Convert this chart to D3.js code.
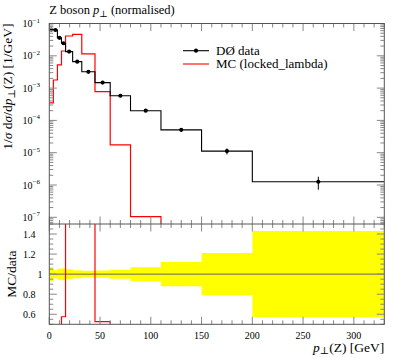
<!DOCTYPE html>
<html><head><meta charset="utf-8">
<script src="https://cdn.jsdelivr.net/npm/d3@7"></script>
<style>
body{margin:0;background:#fff;}
svg{display:block;font-family:"Liberation Serif","DejaVu Serif",serif;}
</style></head>
<body><svg id="c" width="397" height="358"></svg>
<script>
// ---- data ----
const binEdges = [0, 4, 8, 12, 16, 23, 32, 45, 60, 80, 110, 150, 200, 330];
const dataValues = [0.065, 0.063, 0.036, 0.0245, 0.0135, 0.0066, 0.0032, 0.00148, 0.00058, 0.0002, 0.000051, 0.0000112, 0.00000126];
const dataRelErr = [0.07, 0.04, 0.055, 0.06, 0.05, 0.04, 0.033, 0.037, 0.045, 0.07, 0.12, 0.21, 0.43];
const mcValues = [0.00035, 0.00178, 0.0052, 0.0141, 0.041, 0.046, 0.0114, 0.00078, 0.0000174, 0.000000105, 0, 0, 0];
const xTickLabels = ["0", "50", "100", "150", "200", "250", "300"];
const yTickExps = [-1, -2, -3, -4, -5, -6, -7];
const ratioTickLabels = ["0.6", "0.8", "1", "1.2", "1.4"];

const svg = d3.select("#c");
const L = 49.3, R = 384.3, T = 23.5, MB = 224, RB = 324.3;
const x = d3.scaleLinear().domain([0, 330]).range([L, R]);
const y = d3.scaleLog().domain([1e-7, 1e-1]).range([217.3, T]);
const yr = d3.scaleLinear().domain([0.5, 1.5]).range([RB, MB]);
const yM = v => v > 0 ? y(v) : MB + 20;

const defs = svg.append("defs");
defs.append("clipPath").attr("id","cm").append("rect").attr("x",L).attr("y",T).attr("width",R-L).attr("height",MB-T);
defs.append("clipPath").attr("id","cr").append("rect").attr("x",L).attr("y",MB).attr("width",R-L).attr("height",RB-MB);

const nb = dataValues.length;
function stepPath(vals, fy){
  const p = d3.path();
  for (let i=0;i<nb;i++){
    const yy = fy(vals[i]);
    if (i===0) p.moveTo(x(binEdges[0]), yy); else p.lineTo(x(binEdges[i]), yy);
    p.lineTo(x(binEdges[i+1]), yy);
  }
  return p.toString();
}

// ---- ratio panel ----
const gr = svg.append("g").attr("clip-path","url(#cr)");
const bandArea = d3.area().curve(d3.curveStepAfter)
  .x(d=>x(d.x)).y0(d=>yr(1-d.e)).y1(d=>yr(1+d.e));
const bandPts = dataRelErr.map((e,i)=>({x:binEdges[i], e}));
bandPts.push({x:binEdges[nb], e:dataRelErr[nb-1]});
gr.append("path").attr("d", bandArea(bandPts)).attr("fill","#ffff00");
gr.append("line").attr("x1",L).attr("x2",R).attr("y1",yr(1)).attr("y2",yr(1)).attr("stroke","#666").attr("stroke-width",1);
const ratioVals = mcValues.map((m,i)=>m/dataValues[i]);
gr.append("path").attr("d", stepPath(ratioVals, v=>Math.max(-50, Math.min(500, yr(v)))))
  .attr("fill","none").attr("stroke","#ff0000").attr("stroke-width",1.2);

// ---- main panel ----
const gm = svg.append("g").attr("clip-path","url(#cm)");
gm.append("path").attr("d", stepPath(mcValues, yM)).attr("fill","none").attr("stroke","#ff0000").attr("stroke-width",1.2);
gm.append("path").attr("d", stepPath(dataValues, yM)).attr("fill","none").attr("stroke","#000").attr("stroke-width",1.1);
dataValues.forEach((v,i)=>{
  const cx = x((binEdges[i]+binEdges[i+1])/2);
  gm.append("line").attr("x1",cx).attr("x2",cx)
    .attr("y1",y(v*(1+dataRelErr[i]))).attr("y2",y(v*(1-dataRelErr[i])))
    .attr("stroke","#000").attr("stroke-width",1);
  gm.append("circle").attr("cx",cx).attr("cy",y(v)).attr("r",2.1).attr("fill","#000");
});

// ---- frames & ticks ----
const tickCol = "#888", frameCol = "#555";
function vtick(xx, y0, len){ svg.append("line").attr("x1",xx).attr("x2",xx).attr("y1",y0).attr("y2",y0+len).attr("stroke",tickCol).attr("stroke-width",1); }
function htick(yy, x0, len){ svg.append("line").attr("x1",x0).attr("x2",x0+len).attr("y1",yy).attr("y2",yy).attr("stroke",tickCol).attr("stroke-width",1); }
for (let v=0; v<=330; v+=10){
  const xx = x(v), len = v%50===0 ? 7.5 : 4;
  vtick(xx, T, len); vtick(xx, MB, -len); vtick(xx, MB, len); vtick(xx, RB, -len);
}
for (let e=-8; e<=-1; e++){
  for (let m=1; m<=9; m++){
    const v = m*Math.pow(10,e), yy = y(v);
    if (yy < T-0.1 || yy > MB) continue;
    const len = m===1 ? 7.5 : 4;
    htick(yy, L, len); htick(yy, R, -len);
  }
}
for (let k=0; k<=20; k++){
  const v = 0.5 + k*0.05, yy = yr(v);
  const len = (Math.round(v*100)%20===0) ? 7.5 : 4;
  htick(yy, L, len); htick(yy, R, -len);
}
svg.append("rect").attr("x",L).attr("y",T).attr("width",R-L).attr("height",RB-T).attr("fill","none").attr("stroke",frameCol).attr("stroke-width",1);
svg.append("line").attr("x1",L).attr("x2",R).attr("y1",MB).attr("y2",MB).attr("stroke",frameCol).attr("stroke-width",1);

// ---- labels ----
xTickLabels.forEach(t=>{
  svg.append("text").attr("x",x(+t)).attr("y",338.5).attr("text-anchor","middle").attr("font-size",10).text(t);
});
yTickExps.forEach(e=>{
  const tx = svg.append("text").attr("x",40).attr("y",y(Math.pow(10,e))+3.5).attr("text-anchor","end").attr("font-size",10);
  tx.append("tspan").text("10");
  tx.append("tspan").attr("dy",-4.5).attr("font-size",7).text("\u2212"+(-e));
});
ratioTickLabels.forEach(t=>{
  svg.append("text").attr("x", t==="1" ? 42.5 : 35.5).attr("y",yr(+t)+3.5).attr("text-anchor","end").attr("font-size",10).text(t);
});
// title
const ti = svg.append("text").attr("x",L).attr("y",14).attr("font-size",12.5);
ti.append("tspan").text("Z boson ");
ti.append("tspan").attr("font-style","italic").text("p");
ti.append("tspan").attr("dy",2.5).attr("font-size",9).text("\u22a5");
ti.append("tspan").attr("dy",-2.5).text(" (normalised)");
// y label
const yl = svg.append("text").attr("transform",`translate(12,${T}) rotate(-90)`).attr("text-anchor","end").attr("font-size",13.5);
yl.append("tspan").text("1/");
yl.append("tspan").attr("font-style","italic").text("\u03c3");
yl.append("tspan").text(" d");
yl.append("tspan").attr("font-style","italic").text("\u03c3");
yl.append("tspan").text("/d");
yl.append("tspan").attr("font-style","italic").text("p");
yl.append("tspan").attr("dy",2.5).attr("font-size",10).text("\u22a5");
yl.append("tspan").attr("dy",-2.5).text("(Z) [1/GeV]");
// ratio label
svg.append("text").attr("transform",`translate(15.5,${yr(1)}) rotate(-90)`).attr("text-anchor","middle").attr("font-size",13.5).text("MC/data");
// x label
const xl = svg.append("text").attr("x",R).attr("y",351.5).attr("text-anchor","end").attr("font-size",13.5);
xl.append("tspan").attr("font-style","italic").text("p");
xl.append("tspan").attr("dy",2.5).attr("font-size",10).text("\u22a5");
xl.append("tspan").attr("dy",-2.5).text("(Z) [GeV]");
// legend
const lg = svg.append("g");
lg.append("line").attr("x1",183).attr("x2",209).attr("y1",50.7).attr("y2",50.7).attr("stroke","#000").attr("stroke-width",1.1);
lg.append("circle").attr("cx",196).attr("cy",50.7).attr("r",2.1).attr("fill","#000");
lg.append("text").attr("x",216).attr("y",54.5).attr("font-size",13).text("D\u00d8 data");
lg.append("line").attr("x1",183).attr("x2",209).attr("y1",64).attr("y2",64).attr("stroke","#ff0000").attr("stroke-width",1.1);
lg.append("text").attr("x",216).attr("y",68).attr("font-size",13).text("MC (locked_lambda)");
</script></body></html>
